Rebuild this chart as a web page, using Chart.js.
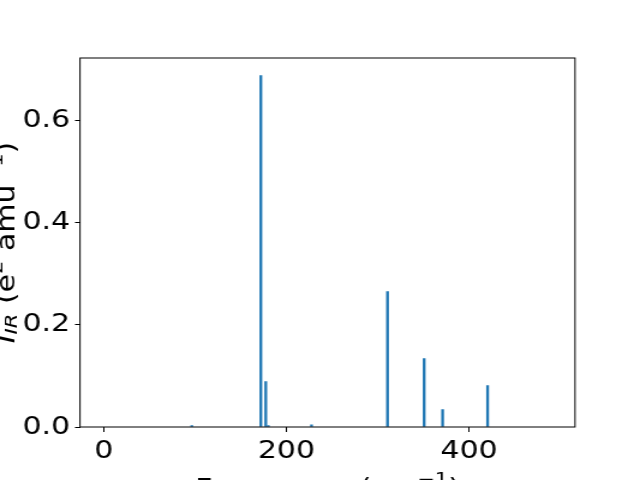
<!DOCTYPE html>
<html><head><meta charset="utf-8">
<script src="https://cdn.jsdelivr.net/npm/chart.js@4"></script>
<style>html,body{margin:0;padding:0;background:#fff;overflow:hidden}canvas{display:block}</style>
</head><body>
<canvas id="c" width="533" height="480" style="width:640px;height:480px"></canvas>
<script>
// ---- data ----
const frequencies = [96.4, 172.0, 177.4, 180.2, 227.5, 310.7, 350.8, 371.0, 420.3];
const intensities = [0.003, 0.687, 0.089, 0.003, 0.004, 0.265, 0.134, 0.034, 0.081];
const xTickValues = [0, 200, 400];
const yTickValues = [0.0, 0.2, 0.4, 0.6];
const xTitleParts = [{t:'Frequency (cm'},{t:'\u22121',sup:true},{t:')'}];
const yTitleParts = [{t:'I',it:true},{t:'IR',it:true,sub:true},{t:' (e'},{t:'2',sup:true},{t:' amu'},{t:'\u22121',sup:true},{t:')'}];

const FONT = 'DejaVu Sans';
const FS = 25;
const SX = 533/640; // canvas units per screen px horizontally

function fontFor(p){ const s = (p.sup||p.sub)?FS*0.7:FS; return (p.it?'italic ':'')+s+'px "'+FONT+'"'; }
function drawRich(ctx, parts, cx, cy, subShift){
  let w = 0;
  parts.forEach(p=>{ ctx.font = fontFor(p); p._w = ctx.measureText(p.t).width; w += p._w; });
  let x = cx - w/2;
  ctx.textBaseline = 'alphabetic'; ctx.textAlign = 'left'; ctx.fillStyle = '#000';
  parts.forEach(p=>{ ctx.font = fontFor(p); let dy = 0; if (p.sup) dy = -0.45*FS; if (p.sub) dy = subShift*FS; ctx.fillText(p.t, x, cy+dy); x += p._w; });
}

const framePlugin = {
  id:'frame',
  afterDatasetsDraw(chart){
    const {ctx, chartArea:a} = chart;
    ctx.save(); ctx.strokeStyle = '#000'; ctx.lineWidth = 1;
    ctx.strokeRect(a.left, a.top, a.right-a.left, a.bottom-a.top);
    ctx.restore();
  },
  afterDraw(chart){
    const {ctx, chartArea:a} = chart;
    ctx.save();
    ctx.setTransform(1,0,0,1,0,0);
    drawRich(ctx, xTitleParts, (a.left+a.right)/2, 496, 0.12);
    ctx.translate(14*SX, (a.top+a.bottom)/2);
    ctx.scale(SX, 1/SX);
    ctx.rotate(-Math.PI/2);
    drawRich(ctx, yTitleParts, 0, 0, 0.1);
    ctx.restore();
  }
};

new Chart(document.getElementById('c'), {
  type:'bar',
  data:{ datasets:[{ data: frequencies.map((f,i)=>({x:f, y:intensities[i]})), backgroundColor:'#1f77b4', borderWidth:0, barThickness:2*SX }] },
  options:{
    responsive:false, devicePixelRatio:1, animation:false,
    layout:{ padding:{ left:80*SX-60, right:533-575*SX, top:58, bottom:0 } },
    plugins:{ legend:{display:false}, tooltip:{enabled:false}, title:{display:false} },
    scales:{
      x:{ type:'linear', min:-26, max:516, offset:false,
        afterFit(s){ s.height = 53; },
        afterBuildTicks(s){ s.ticks = xTickValues.map(v=>({value:v})); },
        grid:{ display:true, offset:false, drawOnChartArea:false, drawTicks:true, tickLength:5, tickColor:'#000', tickWidth:1 },
        border:{ display:false },
        ticks:{ color:'#000', font:{family:FONT, size:FS}, padding:4, maxRotation:0, autoSkip:false, callback:v=>String(v) } },
      y:{ type:'linear', min:0, max:0.7215,
        afterFit(s){ s.width = 60; },
        afterBuildTicks(s){ s.ticks = yTickValues.map(v=>({value:v})); },
        grid:{ display:true, offset:false, drawOnChartArea:false, drawTicks:true, tickLength:5*SX, tickColor:'#000', tickWidth:1 },
        border:{ display:false },
        ticks:{ color:'#000', font:{family:FONT, size:FS}, padding:4, autoSkip:false, callback:v=>Number(v).toFixed(1) } }
    }
  },
  plugins:[framePlugin]
});
</script></body></html>
